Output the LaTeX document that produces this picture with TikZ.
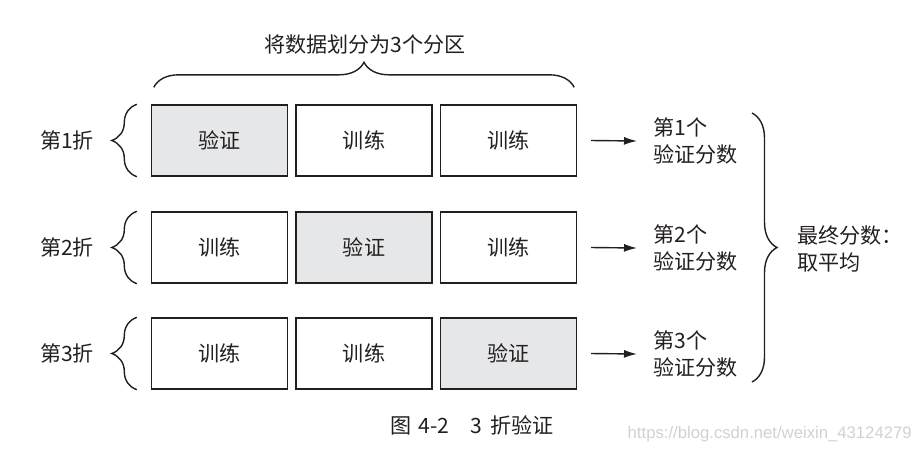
\documentclass[tikz,border=0pt]{standalone}
\usepackage{fontspec}
\setmainfont{Noto Sans CJK SC}
\newfontfamily\wmfont{Liberation Sans}
\usetikzlibrary{arrows.meta,positioning,calc,decorations.pathreplacing}
\definecolor{inkdark}{HTML}{231F20}
\definecolor{valgray}{HTML}{E6E7E8}

\begin{document}
\begin{tikzpicture}[x=0.02cm, y=-0.02cm,
    part/.style={draw=inkdark, fill=white, line width=0.8pt,
                 minimum width=2.72cm, minimum height=1.42cm, inner sep=0pt,
                 font=\fontsize{12}{15.5}\selectfont, text=inkdark},
    valpart/.style={part, fill=valgray},
    lbl/.style={inner sep=0pt, font=\fontsize{12}{15.5}\selectfont,
                text=inkdark, align=left},
    arr/.style={-{Latex[length=2.6mm, width=1.6mm]}, line width=0.8pt, draw=inkdark},
    brc/.style={decorate, decoration={brace, amplitude=0.5cm},
                line width=0.8pt, draw=inkdark}
]
  \useasboundingbox (0,0) rectangle (915,454);
  % Fold 1
  \node[valpart] (r1a) at (219.5,140.5) {验证};
  \node[part] (r1b) at (364,140.5) {训练};
  \node[part] (r1c) at (508.5,140.5) {训练};
  % Fold 2
  \node[part] (r2a) at (219.5,247.5) {训练};
  \node[valpart] (r2b) at (364,247.5) {验证};
  \node[part] (r2c) at (508.5,247.5) {训练};
  % Fold 3
  \node[part] (r3a) at (219.5,353.5) {训练};
  \node[part] (r3b) at (364,353.5) {训练};
  \node[valpart] (r3c) at (508.5,353.5) {验证};
  % Fold labels
  \node[lbl] (f1) at (67,140) {第1折};
  \node[lbl] (f2) at (67,247) {第2折};
  \node[lbl] (f3) at (67,353) {第3折};
  \draw[brc] ([xshift=-0.28cm]r1a.south west) -- ([xshift=-0.28cm]r1a.north west);
  \draw[brc] ([xshift=-0.28cm]r2a.south west) -- ([xshift=-0.28cm]r2a.north west);
  \draw[brc] ([xshift=-0.28cm]r3a.south west) -- ([xshift=-0.28cm]r3a.north west);
  % Partition brace
  \draw[brc] ($(r1a.north west)+(3,-17)$) -- ($(r1c.north east)+(-3,-17)$);
  \node[lbl] (title) at (365,45) {将数据划分为3个分区};
  % Scores
  \node[lbl, anchor=west] (s1) at (653,141) {第1个\\验证分数};
  \node[lbl, anchor=west] (s2) at (653,248) {第2个\\验证分数};
  \node[lbl, anchor=west] (s3) at (653,354) {第3个\\验证分数};
  \draw[arr] ([xshift=0.28cm]r1c.east) -- ([xshift=-0.32cm]s1.west);
  \draw[arr] ([xshift=0.28cm]r2c.east) -- ([xshift=-0.32cm]s2.west);
  \draw[arr] ([xshift=0.28cm]r3c.east) -- ([xshift=-0.32cm]s3.west);
  % Average
  \coordinate (bt) at (752,113);
  \coordinate (bb) at (752,382);
  \draw[brc] (bt) -- (bb);
  \node[lbl, anchor=west] (avg) at (797,249) {最终分数：\\取平均};
  % Caption
  \node[lbl] (cap) at (472,425) {图\hspace{0.35em}4-2\hspace{1em}3\hspace{0.4em}折验证};
  \node[inner sep=0pt, anchor=east, font=\wmfont\fontsize{9.5}{11}\selectfont,
        text=black!18] (wm) at (912,434) {https://blog.csdn.net/weixin\_43124279};
\end{tikzpicture}
\end{document}
